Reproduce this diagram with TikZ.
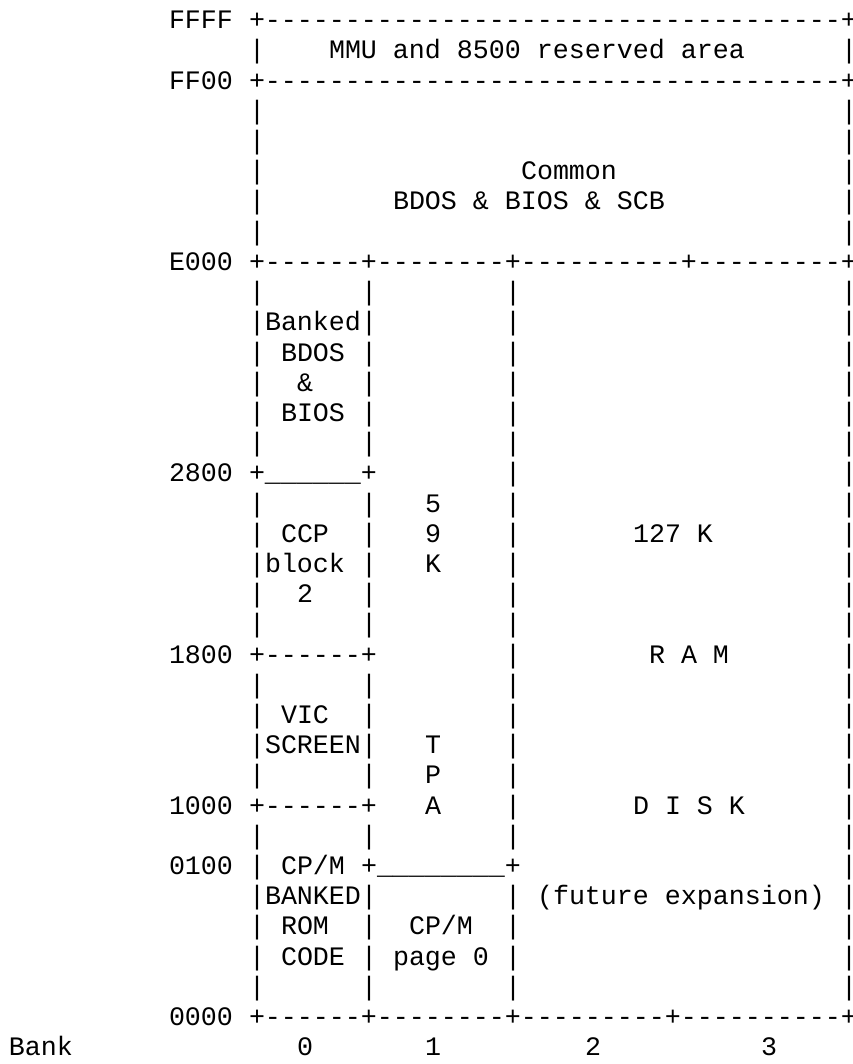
\documentclass[tikz,border=0pt]{standalone}
\usepackage{fontspec}
\setmonofont{Liberation Mono}
\usetikzlibrary{positioning}

\begin{document}
\begin{tikzpicture}[x=16pt, y=-30.2pt]
    % memory map of the banks -- one text cell per column/row
\tikzset{
  cell/.style={font=\ttfamily\fontsize{26.66pt}{30.2pt}\selectfont,
    anchor=base west, inner sep=0pt, outer sep=0pt},
}

  \useasboundingbox[fill=white] (-9pt,28.8pt) rectangle (843pt,-1035.2pt);

  % Address labels
  \node[cell] (aFFFF) at (10,0)  {FFFF};
  \node[cell] (aFF00) at (10,2)  {FF00};
  \node[cell] (aE000) at (10,8)  {E000};
  \node[cell] (a2800) at (10,15) {2800};
  \node[cell] (a1800) at (10,21) {1800};
  \node[cell] (a1000) at (10,26) {1000};
  \node[cell] (a0100) at (10,28) {0100};
  \node[cell] (a0000) at (10,33) {0000};

  % Horizontal rules
  \node[cell] (hFFFF) at (15,0)  {+------------------------------------+};
  \node[cell] (hFF00) at (15,2)  {+------------------------------------+};
  \node[cell] (hE000) at (15,8)  {+------+--------+----------+---------+};
  \node[cell] (h2800) at (15,15) {+\_\_\_\_\_\_+};
  \node[cell] (h1800) at (15,21) {+------+};
  \node[cell] (h1000) at (15,26) {+------+};
  \node[cell] (h0100) at (22,28) {+\_\_\_\_\_\_\_\_+};
  \node[cell] (h0000) at (15,33) {+------+--------+---------+----------+};

  % Vertical rules
  \foreach \r in {1,3,4,...,7,9,10,...,14,16,17,...,20,22,23,24,25,27,28,...,32}
    \node[cell] (vl-\r) at (15,\r) {|};
  \foreach \r in {9,10,...,14,16,17,...,20,22,23,24,25,27,29,30,31,32}
    \node[cell] (vb-\r) at (22,\r) {|};
  \foreach \r in {9,10,...,27,29,30,31,32}
    \node[cell] (vc-\r) at (31,\r) {|};
  \foreach \r in {1,3,4,...,7,9,10,...,32}
    \node[cell] (vr-\r) at (52,\r) {|};

  % Reserved and common area
  \node[cell] (mmu) at (20,1) {MMU and 8500 reserved area};
  \node[cell] (common) at (32,5) {Common};
  \node[cell] (shared) at (24,6) {BDOS \& BIOS \& SCB};

  % Bank 0
  \node[cell] (banked) at (16,10) {Banked};
  \node[cell] (bdos) at (17,11) {BDOS};
  \node[cell] (amp) at (18,12) {\&};
  \node[cell] (bios) at (17,13) {BIOS};
  \node[cell] (ccp) at (17,17) {CCP};
  \node[cell] (block) at (16,18) {block};
  \node[cell] (two) at (18,19) {2};
  \node[cell] (vic) at (17,23) {VIC};
  \node[cell] (screen) at (16,24) {SCREEN};
  \node[cell] (cpmrom) at (17,28) {CP/M};
  \node[cell] (bankrom) at (16,29) {BANKED};
  \node[cell] (rom) at (17,30) {ROM};
  \node[cell] (code) at (17,31) {CODE};

  % Bank 1
  \node[cell] (tpa5) at (26,16) {5};
  \node[cell] (tpa9) at (26,17) {9};
  \node[cell] (tpaK) at (26,18) {K};
  \node[cell] (tpaT) at (26,24) {T};
  \node[cell] (tpaP) at (26,25) {P};
  \node[cell] (tpaA) at (26,26) {A};
  \node[cell] (cpmpg) at (25,30) {CP/M};
  \node[cell] (page0) at (24,31) {page 0};

  % Banks 2 and 3
  \node[cell] (size) at (39,17) {127 K};
  \node[cell] (ram) at (40,21) {R A M};
  \node[cell] (disk) at (39,26) {D I S K};
  \node[cell] (future) at (33,29) {(future expansion)};

  % Bank numbers
  \node[cell] (bank) at (0,34) {Bank};
  \node[cell] (bank0) at (18,34) {0};
  \node[cell] (bank1) at (26,34) {1};
  \node[cell] (bank2) at (36,34) {2};
  \node[cell] (bank3) at (47,34) {3};

  \end{tikzpicture}
\end{document}
